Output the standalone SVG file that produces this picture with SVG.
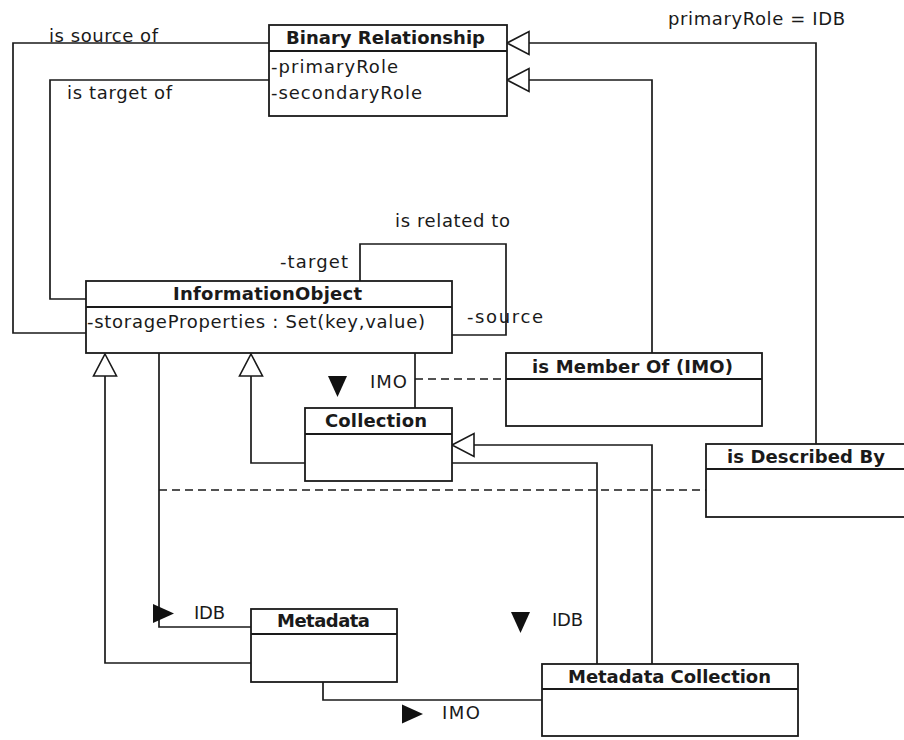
<svg xmlns="http://www.w3.org/2000/svg" xmlns:xlink="http://www.w3.org/1999/xlink" width="904" height="740" viewBox="0 0 904 740">
  <style>
    .box { fill: #fff; stroke: #1a1a1a; stroke-width: 1.8; }
    .div { fill: none; stroke: #1a1a1a; stroke-width: 1.8; }
    .ln { fill: none; stroke: #1a1a1a; stroke-width: 1.7; }
    .dash { stroke-dasharray: 8 5; }
    .gen { fill: #fff; stroke: #1a1a1a; stroke-width: 1.6; }
    .dir { fill: #111; stroke: none; }
    .t { font-family: "DejaVu Sans", "Liberation Sans", sans-serif; font-size: 18px; fill: #1a1a1a; }
    .h { font-weight: bold; font-size: 18px; }
  </style>
  <defs>
    <!-- hollow generalization head, tip at origin, pointing left -->
    <polygon id="gen" class="gen" points="0,0 22,-11.5 22,11.5"/>
    <!-- filled reading-direction triangle, pointing right -->
    <polygon id="dir" class="dir" points="0,-9.5 0,9.5 21,0"/>
  </defs>

  <rect width="904" height="740" fill="#fff"/>

  <!-- connectors -->
  <g id="connectors">
    <!-- InformationObject -> Binary Relationship -->
    <polyline class="ln" points="86,333 13,333 13,43 269,43"/>
    <polyline class="ln" points="86,299 50,299 50,80 269,80"/>
    <!-- self association -->
    <polyline class="ln" points="360,281 360,244 506,244 506,335 452,335"/>
    <!-- generalizations to Binary Relationship -->
    <polyline class="ln" points="816,444 816,43 529,43"/>
    <polyline class="ln" points="652,353 652,80 529,80"/>
    <use xlink:href="#gen" transform="translate(507,43)"/>
    <use xlink:href="#gen" transform="translate(507,80)"/>
    <!-- InformationObject - Collection (IMO) -->
    <line class="ln" x1="415" y1="353" x2="415" y2="408"/>
    <line class="ln dash" x1="415" y1="379" x2="506" y2="379"/>
    <!-- generalizations to InformationObject -->
    <polyline class="ln" points="305,463 251,463 251,376"/>
    <polyline class="ln" points="251,663 105,663 105,376"/>
    <use xlink:href="#gen" transform="translate(251,354) rotate(90)"/>
    <use xlink:href="#gen" transform="translate(105,354) rotate(90)"/>
    <!-- InformationObject - Metadata (IDB) -->
    <polyline class="ln" points="159,353 159,627 251,627"/>
    <line class="ln dash" x1="159" y1="490" x2="706" y2="490"/>
    <!-- Metadata Collection -> Collection -->
    <polyline class="ln" points="652,664 652,445 473,445"/>
    <use xlink:href="#gen" transform="translate(452,445)"/>
    <!-- Collection - Metadata Collection (IDB) -->
    <polyline class="ln" points="452,463 597,463 597,664"/>
    <!-- Metadata - Metadata Collection (IMO) -->
    <polyline class="ln" points="323,682 323,700 542,700"/>

    <!-- direction markers -->
    <use xlink:href="#dir" transform="translate(337.5,376) rotate(90)"/>
    <use xlink:href="#dir" transform="translate(153,613.5)"/>
    <use xlink:href="#dir" transform="translate(402,714)"/>
    <use xlink:href="#dir" transform="translate(520.5,612) rotate(90)"/>

    <!-- labels -->
    <text class="t" x="49" y="42" textLength="109" lengthAdjust="spacing">is source of</text>
    <text class="t" x="67" y="99" textLength="105" lengthAdjust="spacing">is target of</text>
    <text class="t" x="668" y="25" textLength="177" lengthAdjust="spacing">primaryRole = IDB</text>
    <text class="t" x="395" y="227" textLength="115" lengthAdjust="spacing">is related to</text>
    <text class="t" x="280" y="268" textLength="68" lengthAdjust="spacing">-target</text>
    <text class="t" x="467" y="323" textLength="76" lengthAdjust="spacing">-source</text>
    <text class="t" x="370" y="388" textLength="37" lengthAdjust="spacing">IMO</text>
    <text class="t" x="194" y="619" textLength="31" lengthAdjust="spacing">IDB</text>
    <text class="t" x="552" y="626" textLength="31" lengthAdjust="spacing">IDB</text>
    <text class="t" x="442" y="719" textLength="38" lengthAdjust="spacing">IMO</text>
  </g>

  <g id="binary-relationship">
    <rect class="box" x="269" y="25" width="238" height="91"/>
    <line class="div" x1="269" y1="51" x2="507" y2="51"/>
    <text class="t h" x="286" y="44" textLength="199" lengthAdjust="spacing">Binary Relationship</text>
    <text class="t" x="271" y="73" textLength="127" lengthAdjust="spacing">-primaryRole</text>
    <text class="t" x="271" y="99" textLength="151" lengthAdjust="spacing">-secondaryRole</text>
  </g>

  <g id="information-object">
    <rect class="box" x="86" y="281" width="366" height="72"/>
    <line class="div" x1="86" y1="307" x2="452" y2="307"/>
    <text class="t h" x="173" y="300" textLength="189" lengthAdjust="spacing">InformationObject</text>
    <text class="t" x="87" y="328" textLength="338" lengthAdjust="spacing">-storageProperties : Set(key,value)</text>
  </g>

  <g id="is-member-of">
    <rect class="box" x="506" y="353" width="256" height="73"/>
    <line class="div" x1="506" y1="379" x2="762" y2="379"/>
    <text class="t h" x="532" y="373" textLength="201" lengthAdjust="spacing">is Member Of (IMO)</text>
  </g>

  <g id="collection">
    <rect class="box" x="305" y="408" width="147" height="73"/>
    <line class="div" x1="305" y1="434" x2="452" y2="434"/>
    <text class="t h" x="325" y="427" textLength="102" lengthAdjust="spacing">Collection</text>
  </g>

  <g id="is-described-by">
    <rect class="box" x="706" y="444" width="204" height="73"/>
    <line class="div" x1="706" y1="469" x2="910" y2="469"/>
    <text class="t h" x="727" y="463" textLength="158" lengthAdjust="spacing">is Described By</text>
  </g>

  <g id="metadata">
    <rect class="box" x="251" y="609" width="146" height="73"/>
    <line class="div" x1="251" y1="634" x2="397" y2="634"/>
    <text class="t h" x="277" y="627" textLength="93" lengthAdjust="spacing">Metadata</text>
  </g>

  <g id="metadata-collection">
    <rect class="box" x="542" y="664" width="256" height="72"/>
    <line class="div" x1="542" y1="689" x2="798" y2="689"/>
    <text class="t h" x="568" y="683" textLength="203" lengthAdjust="spacing">Metadata Collection</text>
  </g>
</svg>
